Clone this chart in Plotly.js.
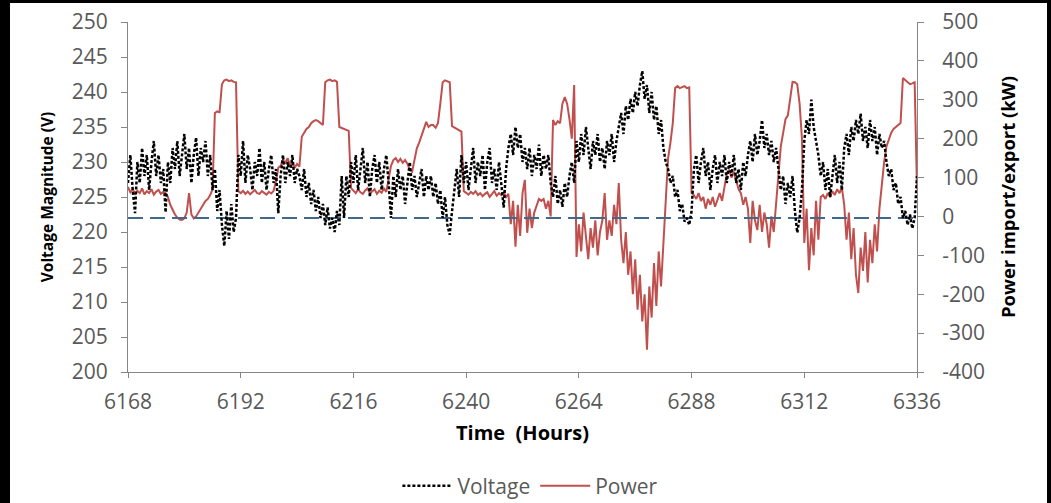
<!DOCTYPE html>
<html>
<head>
<meta charset="utf-8">
<script src="https://cdn.plot.ly/plotly-3.0.1.min.js"></script>
<style>
  html, body { margin: 0; padding: 0; background: #000; width: 1051px; height: 503px; overflow: hidden; }
  #chart { position: absolute; left: 10px; top: 3px; width: 1037px; height: 500px; background: #fff; }
</style>
</head>
<body>
<div id="chart"></div>
<script>
// Time axis: half-hour samples starting at hour 6168
const startHour = 6168;
const stepHours = 0.5;
const xTicks = [6168, 6192, 6216, 6240, 6264, 6288, 6312, 6336];
const voltageTicks = [200, 205, 210, 215, 220, 225, 230, 235, 240, 245, 250];
const powerTicks = [-400, -300, -200, -100, 0, 100, 200, 300, 400, 500];
const powerTickText = ['-400', '-300', '-200', '-100', '0', '100', '200', '300', '400', '500'];
const limitVoltage = 222;

// Voltage magnitude (V), one row = 4 hours (8 half-hour samples)
const voltage = [
  227, 231, 226, 222.7, 230, 227, 232, 228,      // 6168
  231, 226, 230, 233, 228, 231, 227, 229,        // 6172
  222.8, 230, 227, 232, 229, 233, 228, 231,      // 6176
  234, 229, 232, 227, 231, 233.5, 228, 232,      // 6180
  230, 233, 228, 231, 226, 229, 223, 226,        // 6184
  221, 218, 223, 219, 224, 220, 222, 231,        // 6188
  228, 233, 227, 231, 229, 226, 230, 228,        // 6192
  232, 227, 230, 226, 229, 231, 227, 229,        // 6196
  222.7, 228, 231, 227, 230, 228, 231, 227,      // 6200
  229, 228, 226, 229, 225, 227, 224, 226,        // 6204
  223, 225, 222, 224, 221, 223.5, 220.5, 222,    // 6208
  220, 223, 221, 228, 222, 228, 225, 230,        // 6212
  227, 231, 226, 229, 232, 227, 230, 225,        // 6216
  229, 231, 227, 230, 226, 229, 231, 227,        // 6220
  222, 228, 225, 229, 226, 228, 224, 227,        // 6224
  230, 226, 228, 225, 227, 229, 225, 228,        // 6228
  226, 228, 225, 227, 224, 226, 222, 225,        // 6232
  221, 219.6, 223, 226, 229, 225, 231, 227,      // 6236
  230, 226, 229, 232, 227, 230, 228, 231,        // 6240
  226, 230, 232, 227, 229, 226, 230, 227,        // 6244
  223.5, 229, 232, 234, 231, 235, 232, 234,      // 6248
  230, 232, 229, 232, 228, 231, 229, 232.5,      // 6252
  228, 231, 229, 231, 227, 225, 228, 224,        // 6256
  226, 223.6, 227, 225, 228, 230, 227, 233,      // 6260
  230, 234, 231, 235, 232, 229, 233, 231,        // 6264
  234, 230, 232, 229, 233, 231, 234, 230,        // 6268
  233, 235, 237, 234, 238, 236, 239, 237,        // 6272
  240, 238, 241, 243, 239, 241, 237, 240,        // 6276
  236, 238, 234, 236, 232, 230, 229, 227,        // 6280
  228, 225, 226, 223, 224, 221.5, 222, 221,      // 6284
  223, 229, 231, 227, 230, 232, 228, 230,        // 6288
  226, 229, 231, 227, 230, 228, 231, 227,        // 6292
  230, 228, 231, 227, 229, 226, 230, 228,        // 6296
  231, 233, 230, 234, 231, 233, 236, 232,        // 6300
  234, 231, 233, 230, 232, 229, 226, 228,        // 6304
  224, 227, 225, 228, 223, 219.9, 222, 226,      // 6308
  233, 236, 234, 238.9, 235, 233, 231, 228,      // 6312
  230, 226, 229, 225, 228, 231, 227, 230,        // 6316
  226, 232, 234, 231, 235, 233, 236, 234,        // 6320
  236.9, 233, 235, 232, 236, 233, 235, 231,      // 6324
  234, 232, 233, 230, 228, 229, 226, 227,        // 6328
  224, 225, 222, 223, 221, 222.5, 220.5, 222,    // 6332
  228                                            // 6336
];

// Power import/export (kW), same sampling
const power = [
  76, 62, 70, 58, 66, 60, 72, 57,                // 6168
  65, 60, 70, 56, 64, 68, 58, 63,                // 6172
  60, 50, 30, 15, 5, -3, -8, -9,                 // 6176
  -5, 10, 60, 5, -5, 0, 10, 20,                  // 6180
  30, 40, 45, 55, 70, 266, 270, 268,             // 6184
  340, 350, 352, 348, 350, 346, 345, 65,         // 6188
  60, 66, 58, 64, 57, 62, 68, 60,                // 6192
  58, 65, 61, 56, 63, 59, 66, 90,                // 6196
  125, 130, 145, 138, 150, 130, 140, 125,        // 6200
  135, 128, 205, 215, 225, 230, 240, 245,        // 6204
  248, 245, 240, 235, 345, 350, 352, 348,        // 6208
  350, 346, 230, 228, 225, 222, 220, 73,         // 6212
  66, 60, 70, 62, 58, 67, 72, 60,                // 6216
  64, 70, 58, 66, 61, 72, 63, 100,               // 6220
  130, 145, 150, 140, 148, 138, 145, 135,        // 6224
  120, 115, 150, 175, 190, 205, 225, 243,        // 6228
  230, 235, 235, 228, 240, 290, 345, 350,        // 6232
  348, 345, 232, 228, 225, 222, 218, 65,         // 6236
  60, 56, 63, 58, 65, 55, 60, 52,                // 6240
  58, 62, 50, 57, 65, 53, 60, 55,                // 6244
  62, 50, 58, -20, 40, -78, 30, -50,             // 6248
  60, 94, -42, 20, -30, 10, 30, 45,              // 6252
  40, 45, 20, 40, 0, 248, 235, 245,              // 6256
  240, 290, 307, 290, 250, 200, 338, -104,       // 6260
  -20, -90, 10, -60, -110, -30, -80, -10,        // 6264
  -100, -40, -10, 60, -60, -10, -50, 30,         // 6268
  -20, 86, -60, -120, -40, -150, -90, -200,      // 6272
  -110, -240, -150, -270, -200, -343, -180, -260,// 6276
  -120, -230, -90, -180, -60, 40, 150, 190,      // 6280
  240, 330, 335, 330, 332, 335, 330, 332,        // 6284
  60, 55, 45, 60, 40, 50, 20, 45,                // 6288
  30, 50, 25, 40, 60, 40, 80, 110,               // 6292
  120, 100, 115, 90, 70, 60, 30, 50,             // 6296
  20, -68, 40, -10, -35, 30, -40, 10,            // 6300
  -20, -80, 0, -40, 30, 100, 180, 215,           // 6304
  250, 260, 300, 346, 345, 340, 290, 200,        // 6308
  -68, 20, -138, -30, -100, 40, -60, 50,         // 6312
  55, 45, 60, 50, 65, 55, 70, 60,                // 6316
  75, 30, -60, 10, -110, -30, -150, -197,        // 6320
  -80, -140, -40, -170, -60, -120, -20, -90,     // 6324
  20, 80, 140, 180, 200, 215, 225, 230,          // 6328
  235, 240, 356, 350, 345, 340, 342, 345,        // 6332
  70                                             // 6336
];

const FONT = 'Open Sans, sans-serif';
const tickFont = { family: FONT, size: 21, color: '#595959' };

const traces = [
  {
    x0: startHour, dx: stepHours, y: power, type: 'scatter', mode: 'lines',
    name: 'Power', yaxis: 'y', legendrank: 2,
    line: { color: '#c0504d', width: 2 }
  },
  {
    x: [xTicks[0], xTicks[xTicks.length - 1]], y: [limitVoltage, limitVoltage],
    type: 'scatter', mode: 'lines', yaxis: 'y2', showlegend: false, hoverinfo: 'skip',
    line: { color: '#41698c', width: 2, dash: '15px,7px' }
  },
  {
    x0: startHour, dx: stepHours, y: voltage, type: 'scatter', mode: 'lines',
    name: 'Voltage', yaxis: 'y2', legendrank: 1,
    line: { color: '#000', width: 2.5, dash: '3px,2px' }
  }
];

const layout = {
  width: 1037, height: 500,
  paper_bgcolor: '#fff', plot_bgcolor: '#fff',
  margin: { l: 118, r: 130, t: 19, b: 131, autoexpand: false },
  showlegend: true,
  legend: {
    orientation: 'h', x: 0.51, xanchor: 'center', y: -0.326, yanchor: 'middle',
    itemwidth: 50,
    font: { family: FONT, size: 21, color: '#595959' }
  },
  xaxis: {
    range: [xTicks[0], xTicks[xTicks.length - 1]], tickvals: xTicks,
    showgrid: false, zeroline: false, showline: true, linecolor: '#868686', linewidth: 1,
    ticks: 'outside', ticklen: 5, tickcolor: '#868686', tickfont: tickFont, ticklabelstandoff: 6,
    title: { text: 'Time  (Hours)', font: { family: FONT, size: 20, color: '#000', weight: 'bold' }, standoff: 11 }
  },
  yaxis: {
    side: 'right', range: [-400, 500], tickvals: powerTicks, ticktext: powerTickText,
    showgrid: false, zeroline: false, showline: true, linecolor: '#868686', linewidth: 1,
    ticks: 'outside', ticklen: 6, tickcolor: '#868686', tickfont: tickFont, ticklabelstandoff: 14,
    title: { text: 'Power import/export (kW)', font: { family: FONT, size: 18.5, color: '#000', weight: 'bold' }, standoff: 18 }
  },
  yaxis2: {
    side: 'left', overlaying: 'y', range: [200, 250], tickvals: voltageTicks,
    showgrid: false, zeroline: false, showline: true, linecolor: '#868686', linewidth: 1,
    ticks: 'outside', ticklen: 6, tickcolor: '#868686', tickfont: tickFont, ticklabelstandoff: 9,
    title: { text: 'Voltage Magnitude (V)', font: { family: FONT, size: 15.5, color: '#000', weight: 'bold' }, standoff: 14 }
  }
};

Plotly.newPlot('chart', traces, layout, { displayModeBar: false, staticPlot: true });
</script>
</body>
</html>
